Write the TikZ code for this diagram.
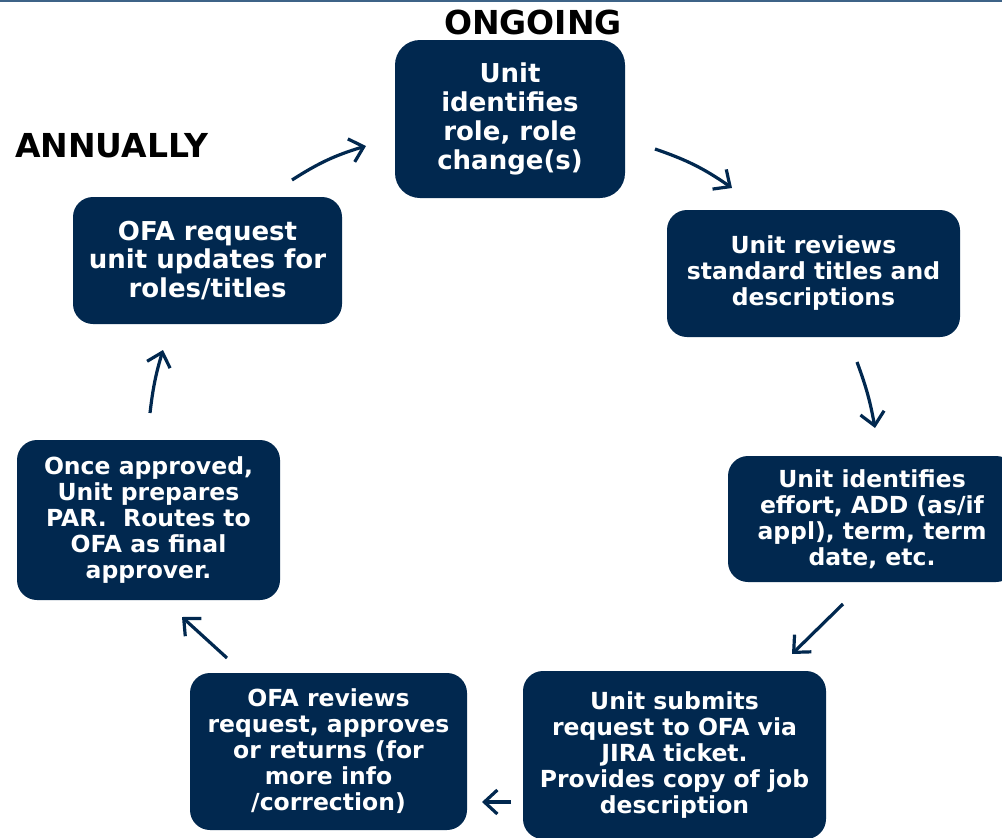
\documentclass[tikz,border=0pt]{standalone}
\usepackage{fontspec}
\setmainfont{DejaVu Sans}
\usepackage{xcolor}
\usetikzlibrary{arrows.meta}
\definecolor{ofanavy}{HTML}{01284F}
\definecolor{ofasteel}{HTML}{3D6387}

\begin{document}
\begin{tikzpicture}[
  x=1pt, y=-1pt,
  stage/.style={fill=ofanavy, text=white, rounded corners=20pt, align=center,
                inner sep=0pt, font=\fontsize{23.5}{26}\selectfont\bfseries},
  bigstage/.style={stage, rounded corners=25pt,
                   font=\fontsize{26}{29}\selectfont\bfseries},
  heading/.style={font=\fontsize{33}{38}\selectfont\bfseries, inner sep=0pt},
  flow/.style={-{Straight Barb[length=13pt,width=24pt]}, ofanavy, line width=3.2pt}
]
\useasboundingbox (0,0) rectangle (1002,838);
\draw[ofasteel, line width=2pt] (0,1) -- (1002,1);

% --- headings ---
\node[heading] (ongoing) at (533,22) {ONGOING};
\node[heading] (annually) at (111.5,146) {ANNUALLY};

% --- cycle of stages ---
\node[bigstage, minimum width=230, minimum height=158] (identify) at (510,119)
  {Unit\\identifies\\role, role\\change(s)};
\node[stage, minimum width=293, minimum height=127] (review) at (813.5,273.5)
  {Unit reviews\\standard titles and\\descriptions};
\node[stage, minimum width=288, minimum height=126] (effort) at (872,519)
  {Unit identifies\\effort, ADD (as/if\\appl), term, term\\date, etc.};
\node[stage, minimum width=303, minimum height=168] (submit) at (674.5,755)
  {Unit submits\\request to OFA via\\JIRA ticket.\\Provides copy of job\\description};
\node[stage, minimum width=277, minimum height=157] (ofareview) at (328.5,751.5)
  {OFA reviews\\request, approves\\or returns (for\\more info\\/correction)};
\node[stage, minimum width=263, minimum height=160] (par) at (148.5,520)
  {Once approved,\\Unit prepares\\PAR.\ \ Routes to\\OFA as final\\approver.};
\node[bigstage, rounded corners=20pt, minimum width=269, minimum height=127,
      font=\fontsize{26}{28.5}\selectfont\bfseries] (request) at (207.5,260.5)
  {OFA request\\unit updates for\\roles/titles};

% --- arrows between stages ---
\coordinate (s1) at (292,180);  \coordinate (e1) at (366,146);
\coordinate (s2) at (655,149);  \coordinate (e2) at (732,188);
\coordinate (s3) at (857,362);  \coordinate (e3) at (875,428);
\coordinate (s4) at (843,604);  \coordinate (e4) at (792,654);
\coordinate (s5) at (511,802);  \coordinate (e5) at (482,802);
\coordinate (s6) at (227,658);  \coordinate (e6) at (182,617);
\coordinate (s7) at (150,413);  \coordinate (e7) at (163,350);

\draw[flow] (s1) to[bend left=8] (e1);
\draw[flow] (s2) to[bend left=8] (e2);
\draw[flow] (s3) to[bend left=5] (e3);
\draw[flow] (s4) -- (e4);
\draw[flow] (s5) -- (e5);
\draw[flow] (s6) -- (e6);
\draw[flow] (s7) to[bend left=5] (e7);

\end{tikzpicture}
\end{document}
